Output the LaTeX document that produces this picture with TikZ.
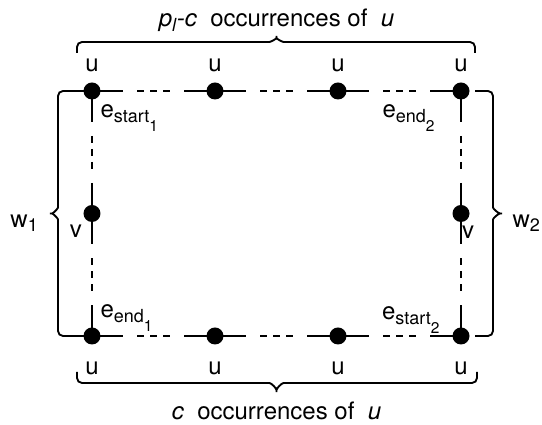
\documentclass[tikz,border=0pt]{standalone}
\usepackage{fontspec}
\setmainfont{TeX Gyre Heros}
\usetikzlibrary{positioning, calc}

\newcommand{\ename}[2]{e\raisebox{-2pt}{\fontsize{7.2}{8}\selectfont #1\raisebox{-3.4pt}{\fontsize{6.2}{7}\selectfont #2}}}
\newcommand{\wname}[1]{w\raisebox{-1.6pt}{\fontsize{7.2}{8}\selectfont #1}}

\begin{document}
\begin{tikzpicture}[
    x=0.4pt, y=0.4pt,
    on grid,
    node distance=49pt and 49.2pt,
    font=\fontsize{9.6}{11}\selectfont,
    dot/.style={circle, fill=black, inner sep=0pt, minimum size=6.8pt},
    edge/.style={line width=0.8pt, dash pattern=on 12.4pt off 5.6pt on 2.8pt off 2.4pt on 2.8pt off 2.4pt on 2.8pt off 5.6pt on 20pt},
    brace/.style={line width=0.75pt, rounded corners=2pt},
    lbl/.style={inner sep=0pt}
]
\useasboundingbox (0,0) rectangle (542,425);

% Vertices
\node[dot] (t1) at (92,334) {};
\node[dot, right=of t1] (t2) {};
\node[dot, right=of t2] (t3) {};
\node[dot, right=of t3] (t4) {};
\node[dot, below=of t1] (l) {};
\node[dot, below=of t4] (r) {};
\node[dot, below=of l] (b1) {};
\node[dot, right=of b1] (b2) {};
\node[dot, right=of b2] (b3) {};
\node[dot, right=of b3] (b4) {};

% Paths between vertices
\draw[edge] (t1.center) -- (t2.center);
\draw[edge] (t2.center) -- (t3.center);
\draw[edge] (t3.center) -- (t4.center);
\draw[edge] (b1.center) -- (b2.center);
\draw[edge] (b2.center) -- (b3.center);
\draw[edge] (b3.center) -- (b4.center);
\draw[edge] (t1.center) -- (l.center);
\draw[edge] (l.center) -- (b1.center);
\draw[edge] (t4.center) -- (r.center);
\draw[edge] (r.center) -- (b4.center);

% Vertex labels
\foreach \n in {t1,t2,t3,t4}
    \node[lbl, anchor=base] (u\n) at ($(\n)+(0,19)$) {u};
\foreach \n in {b1,b2,b3,b4}
    \node[lbl, anchor=base] (u\n) at ($(\n)+(0,-39)$) {u};
\node[lbl, anchor=base] (vl) at ($(l)+(-16,-24)$) {v};
\node[lbl, anchor=base] (vr) at ($(r)+(7,-25)$) {v};

% Edge labels
\node[lbl, anchor=base west] (es1) at ($(t1)+(8,-27)$) {\ename{start}{1}};
\node[lbl, anchor=base east] (ee2) at ($(t4)+(-26,-27)$) {\ename{end}{2}};
\node[lbl, anchor=base west] (ee1) at ($(b1)+(8,18)$) {\ename{end}{1}};
\node[lbl, anchor=base east] (es2) at ($(b4)+(-21,16)$) {\ename{start}{2}};

% Braces
\coordinate (tmid) at ($(t1)!0.5!(t4)$);
\coordinate (bmid) at ($(b1)!0.5!(b4)$);
\draw[brace] ($(t1)+(-15,38)$) |- ($(tmid)+(-12,49)$) to[out=0,in=-90] ($(tmid)+(0,58)$)
    to[out=-90,in=180] ($(tmid)+(12,49)$) -| ($(t4)+(14,38)$);
\draw[brace] ($(b1)+(-15,-36)$) |- ($(bmid)+(-12,-47)$) to[out=0,in=90] ($(bmid)+(0,-59)$)
    to[out=90,in=180] ($(bmid)+(12,-47)$) -| ($(b4)+(16,-36)$);
\draw[brace] (t1.center) -| ($(l)+(-34,11)$) to[out=-90,in=0] ($(l)+(-45,0)$)
    to[out=0,in=90] ($(l)+(-34,-11)$) |- (b1.center);
\draw[brace] ($(t4)+(14,0)$) -| ($(r)+(32,11)$) to[out=-90,in=180] ($(r)+(44,0)$)
    to[out=180,in=90] ($(r)+(32,-11)$) |- ($(b4)+(14,0)$);

% Brace labels
\node[lbl, anchor=base] (top) at ($(tmid)+(0,64)$) {\textit{p}\raisebox{-2pt}{\fontsize{7.2}{8}\selectfont\textit{l}}\textit{-c}\ \ occurrences of\ \ \textit{u}};
\node[lbl, anchor=base] (bot) at ($(bmid)+(0,-84)$) {\textit{c}\ \ occurrences of\ \ \textit{u}};
\node[lbl, anchor=base west] (w1) at ($(l)+(-82,-14)$) {\wname{1}};
\node[lbl, anchor=base west] (w2) at ($(r)+(51,-14)$) {\wname{2}};

\end{tikzpicture}
\end{document}
